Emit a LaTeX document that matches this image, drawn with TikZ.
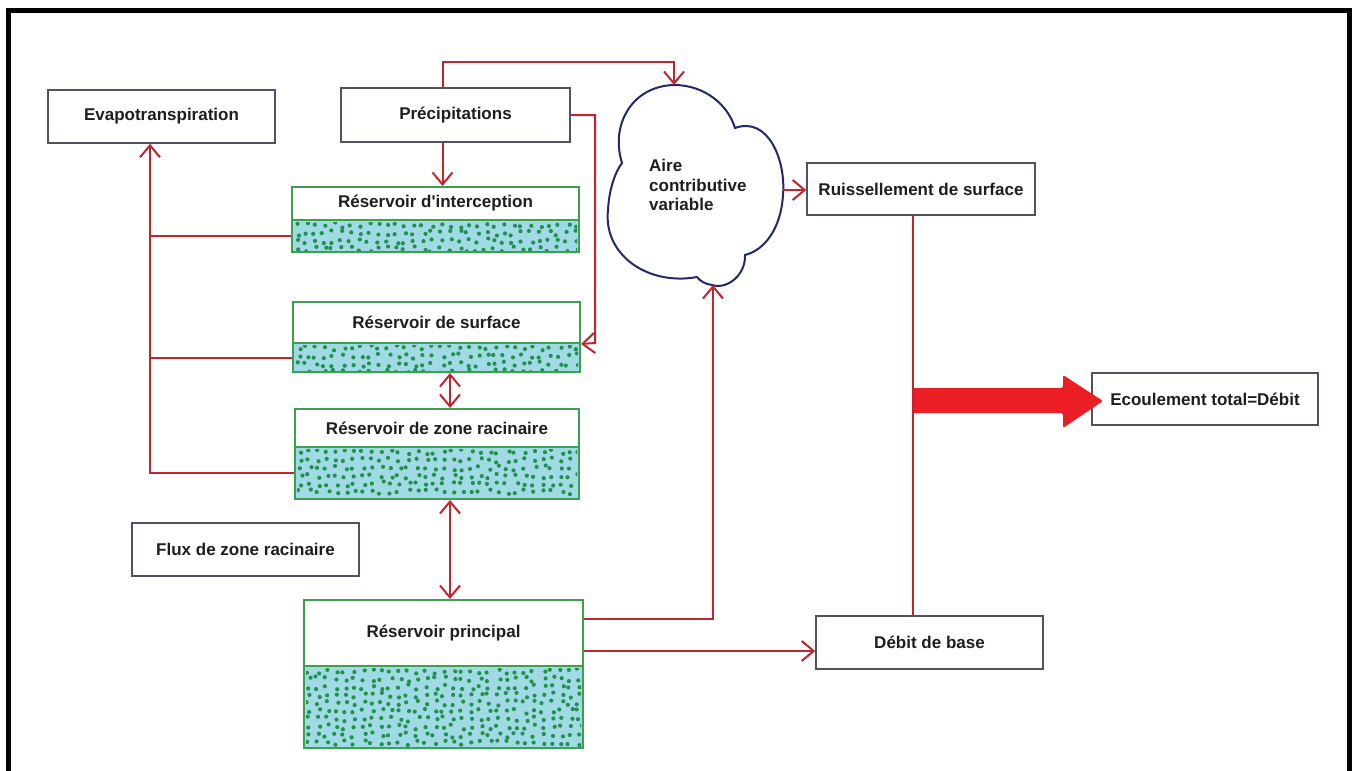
\documentclass[tikz,border=0pt]{standalone}
\usepackage{fontspec}
\setmainfont{Liberation Sans}
\usetikzlibrary{arrows.meta}
\definecolor{redl}{RGB}{192,38,48}
\definecolor{bigred}{RGB}{234,30,36}
\definecolor{gborder}{RGB}{60,160,80}
\definecolor{wfill}{RGB}{160,218,228}
\definecolor{dotg}{RGB}{34,145,78}
\definecolor{boxc}{RGB}{80,82,100}
\definecolor{cloudc}{RGB}{35,40,105}
\definecolor{txt}{RGB}{30,30,30}
\tikzset{
 lbl/.style={font=\fontsize{17}{19.5}\selectfont\bfseries, text=txt},
 plainbox/.style={lbl, draw=boxc, line width=1.5pt, fill=white, inner sep=0pt},
 resT/.style={lbl, draw=gborder, line width=2pt, fill=white, inner sep=0pt},
 resB/.style={draw=gborder, line width=2pt, fill=wfill, inner sep=0pt},
 flow/.style={draw=redl, line width=2pt},
 arr/.style={flow, -{Straight Barb[length=12pt,width=20pt]}},
 darr/.style={flow, {Straight Barb[length=12pt,width=20pt]}-{Straight Barb[length=12pt,width=20pt]}},
}
\newcommand\placebox[7]{\node[#2, minimum width={(#5)-(#3)}, minimum height={(#6)-(#4)}] (#1) at ({((#3)+(#5))/2},{((#4)+(#6))/2}) {#7};}
\newcommand\resdots[4]{%
 \begin{scope}
 \clip ({#1+2},{#2+2}) rectangle ({#3-2},{#4-2});
 \pgfmathsetmacro\dxa{#1+5}\pgfmathsetmacro\dxb{#1+14}%
 \pgfmathsetmacro\dya{#2+5}\pgfmathsetmacro\dyb{#2+13}%
 \foreach \gx in {\dxa,\dxb,...,#3}{\foreach \gy in {\dya,\dyb,...,#4}{\fill[dotg] ({\gx+2.8*rand},{\gy+2.6*rand}) circle[radius=2.1pt];}}
 \end{scope}}
\newcommand\reservoir[7]{%
 \placebox{#1}{resT}{#2}{#3}{#4}{#5}{#7}
 \placebox{#1w}{resB}{#2}{#5}{#4}{#6}{}
 \resdots{#2}{#5}{#4}{#6}}
\begin{document}
\begin{tikzpicture}[x=1pt,y=-1pt]
\pgfmathsetseed{7}
\useasboundingbox (0,0) rectangle (1352,771);
\fill[white] (0,0) rectangle (1352,771);
\draw[line width=5pt] (8,771) -- (8,10) -- (1349.5,10) -- (1349.5,771);

% boxes
\placebox{evap}{plainbox}{48}{90}{275}{143}{Evapotranspiration}
\placebox{precip}{plainbox}{341}{88}{570}{142}{Précipitations}
\placebox{flux}{plainbox}{132}{523}{359}{576}{Flux de zone racinaire}
\placebox{ruis}{plainbox}{807}{163}{1035}{215}{Ruissellement de surface}
\placebox{dbb}{plainbox}{816}{616}{1043}{669}{Débit de base}
\placebox{ecoul}{plainbox}{1092}{373}{1318}{425}{Ecoulement total=Débit}

% reservoirs
\reservoir{rin}{292}{187}{579}{220}{252}{Réservoir d\textquotesingle interception}
\reservoir{rsu}{293}{302}{580}{343}{372}{Réservoir de surface}
\reservoir{rrz}{295}{409}{579}{447}{499}{Réservoir de zone racinaire}
\reservoir{rpr}{304}{600}{583}{666}{748}{Réservoir principal}

% cloud
\draw[cloudc, line width=2pt, fill=white]
 (622,163) .. controls (610,125) and (632,86) .. (674,85)
 .. controls (705,85) and (728,105) .. (735,128)
 .. controls (768,116) and (786,160) .. (783,195)
 .. controls (781,228) and (765,250) .. (745,255)
 .. controls (746,274) and (728,290) .. (712,285)
 .. controls (705,284) and (700,281) .. (697,277)
 .. controls (648,286) and (603,255) .. (608,210)
 .. controls (609,190) and (615,172) .. (622,163) -- cycle;
\node[lbl, anchor=west, align=left, inner sep=0pt] (ctxt) at (649,185) {Aire\\contributive\\variable};
\coordinate (ctop) at (674,85);
\coordinate (cbend) at (674,62);
\coordinate (cright) at (783,190);
\coordinate (cbot) at (713,285);
\coordinate (evx) at (150,0);
\coordinate (pbend) at (595,343);
\coordinate (xdr) at (450,0);
\coordinate (xv) at (913,0);

% connectors
\draw[arr] ([xshift=-13pt]precip.north) |- (cbend) -- (ctop);
\draw[arr] ([xshift=-13pt]precip.south) -- ([xshift=-13pt]precip.south |- rin.north);
\draw[arr] (precip.east) -| (pbend) -- (rsu.south east);
\draw[arr] (rrzw.west) -| (evap.south -| evx);
\draw[flow] (rinw.west) -- (rinw.west -| evx);
\draw[flow] (rsuw.west) -- (rsuw.west -| evx);
\draw[darr] (rsuw.south -| xdr) -- (rrz.north -| xdr);
\draw[darr] (rrzw.south -| xdr) -- (rpr.north -| xdr);
\draw[arr] ([yshift=14pt]rpr.east) -| (cbot);
\draw[arr] ([yshift=-18pt]rpr.east) -- ([yshift=-18pt]rpr.east -| dbb.west);
\draw[arr] (cright) -- (cright -| ruis.west);
\fill[bigred, rounded corners=2pt] (912,388) -- (1063,388) -- (1063,375) -- (1103,401) -- (1063,428) -- (1063,413) -- (912,413) -- cycle;
\draw[flow] (ruis.south -| xv) -- (dbb.north -| xv);
\end{tikzpicture}
\end{document}
